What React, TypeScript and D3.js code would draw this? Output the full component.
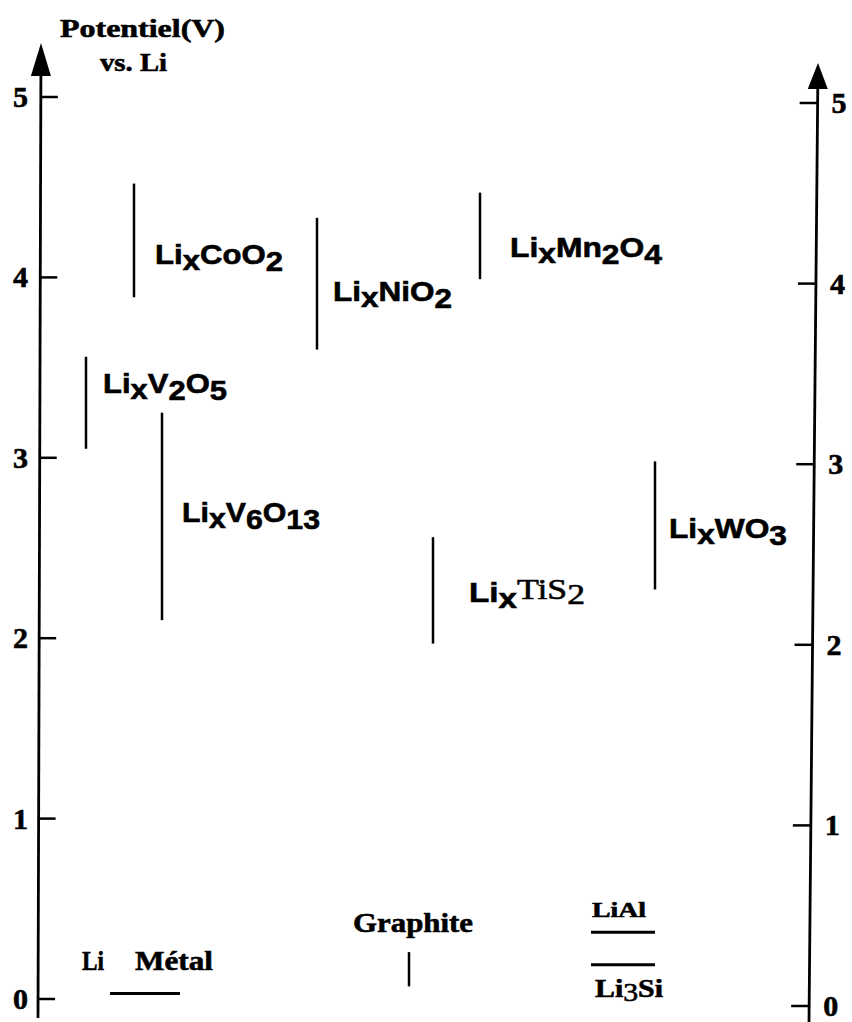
import React from "react";
import * as d3 from "d3";

const W = 852;
const H = 1022;

// Axis tick values (V vs Li)
const tickValues = [0, 1, 2, 3, 4, 5];

// Intercalation compounds: potential ranges (V vs Li)
const compounds = ["LixCoO2", "LixNiO2", "LixMn2O4", "LixV2O5", "LixV6O13", "LixTiS2", "LixWO3"];
const vMax = [4.52, 4.33, 4.47, 3.56, 3.25, 2.56, 2.98];
const vMin = [3.89, 3.6, 3.99, 3.05, 2.1, 1.97, 2.27];

// Graphite range
const graphiteRange = [0.07, 0.26];

// Alloys / lithium metal levels
const alloys = ["Li Métal", "LiAl", "Li3Si"];
const alloyV = [0.03, 0.37, 0.19];

// ---- layout ----
const SERIF = "'Liberation Serif', 'Times New Roman', serif";
const SANS = "'Liberation Sans', Arial, Helvetica, sans-serif";

const barX = [134, 317, 480, 86, 162, 433, 655];
const labelX = [155, 333, 510, 103, 182, 469, 669];
const labelBase = [264, 301, 257, 393, 522, 602, 538];
const labelW = [128, 119, 152, 124, 138, 116, 118];

type Part = { t: string; dy: number; serif?: boolean; bold?: boolean };
const labelParts: Part[][] = [
  [{ t: "Li", dy: 0 }, { t: "x", dy: 6 }, { t: "CoO", dy: 0 }, { t: "2", dy: 7 }],
  [{ t: "Li", dy: 0 }, { t: "x", dy: 6 }, { t: "NiO", dy: 0 }, { t: "2", dy: 7 }],
  [{ t: "Li", dy: 0 }, { t: "x", dy: 6 }, { t: "Mn", dy: 0 }, { t: "2", dy: 7 }, { t: "O", dy: 0 }, { t: "4", dy: 7 }],
  [{ t: "Li", dy: 0 }, { t: "x", dy: 6 }, { t: "V", dy: 0 }, { t: "2", dy: 7 }, { t: "O", dy: 0 }, { t: "5", dy: 7 }],
  [{ t: "Li", dy: 0 }, { t: "x", dy: 6 }, { t: "V", dy: 0 }, { t: "6", dy: 7 }, { t: "O", dy: 0 }, { t: "13", dy: 7 }],
  [{ t: "Li", dy: 0 }, { t: "x", dy: 6 }, { t: "TiS", dy: -3, serif: true, bold: false }, { t: "2", dy: 2, serif: true, bold: false }],
  [{ t: "Li", dy: 0 }, { t: "x", dy: 6 }, { t: "WO", dy: 0 }, { t: "3", dy: 7 }],
];

const graphiteX = 409;
const alloyX1 = [110, 591, 591];
const alloyX2 = [180, 655, 655];

const ink = { fill: "#000", stroke: "#000", strokeWidth: 0.6 };

export default function App() {
  const yL = d3.scaleLinear().domain([0, 5]).range([999, 97]);
  const yR = d3.scaleLinear().domain([0, 5]).range([1006, 103]);
  // slight tilt of the scanned axes
  const axL = d3.scaleLinear().domain([43, 1018]).range([41, 38]);
  const axR = d3.scaleLinear().domain([63, 1022]).range([818, 809]);

  return (
    <svg
      width={W}
      height={H}
      viewBox={`0 0 ${W} ${H}`}
      style={{ position: "absolute", left: 0, top: 0, background: "#fff" }}
    >
      <rect x={0} y={0} width={W} height={H} fill="#fff" />

      {/* Title */}
      <text x={60} y={37} fontFamily={SERIF} fontWeight="bold" fontSize={26} textLength={165} lengthAdjust="spacingAndGlyphs" {...ink}>
        Potentiel(V)
      </text>
      <text x={100} y={71} fontFamily={SERIF} fontWeight="bold" fontSize={26} textLength={67} lengthAdjust="spacingAndGlyphs" {...ink}>
        vs. Li
      </text>

      {/* Left axis */}
      <line x1={axL(75)} y1={75} x2={axL(1018)} y2={1018} stroke="#000" strokeWidth={2.8} />
      <polygon points={`${axL(43)},43 ${axL(75) - 10},76 ${axL(75) + 10},76`} fill="#000" />
      {tickValues.map((v) => {
        const y = yL(v);
        const x = axL(y);
        return (
          <g key={"lt" + v}>
            <line x1={x} y1={y} x2={x + 17} y2={y} stroke="#000" strokeWidth={2.5} />
            <text x={28} y={y + 10} textAnchor="end" fontFamily={SERIF} fontWeight="bold" fontSize={30} {...ink}>
              {v}
            </text>
          </g>
        );
      })}

      {/* Right axis */}
      <line x1={axR(88)} y1={88} x2={axR(1022)} y2={1022} stroke="#000" strokeWidth={2.8} />
      <polygon points={`${axR(63)},63 ${axR(88) - 10},89 ${axR(88) + 10},89`} fill="#000" />
      {tickValues.map((v) => {
        const y = yR(v);
        const x = axR(y);
        return (
          <g key={"rt" + v}>
            <line x1={x - 18} y1={y} x2={x} y2={y} stroke="#000" strokeWidth={2.5} />
            <text x={x + 14} y={y + 10} textAnchor="start" fontFamily={SERIF} fontWeight="bold" fontSize={30} {...ink}>
              {v}
            </text>
          </g>
        );
      })}

      {/* Compound ranges */}
      {compounds.map((c, i) => (
        <g key={c}>
          <line x1={barX[i]} y1={yL(vMax[i])} x2={barX[i]} y2={yL(vMin[i])} stroke="#000" strokeWidth={2.5} />
          <text
            x={labelX[i]}
            y={labelBase[i]}
            fontFamily={SANS}
            fontWeight="bold"
            fontSize={27}
            textLength={labelW[i]}
            lengthAdjust="spacingAndGlyphs"
            {...ink}
          >
            {labelParts[i].map((p, j) => {
              const prev = j === 0 ? 0 : labelParts[i][j - 1].dy;
              return (
                <tspan
                  key={j}
                  dy={p.dy - prev}
                  fontFamily={p.serif ? SERIF : SANS}
                  fontWeight={p.bold === false ? "normal" : "bold"}
                  fontSize={p.serif ? 29 : 27}
                >
                  {p.t}
                </tspan>
              );
            })}
          </text>
        </g>
      ))}

      {/* Graphite */}
      <line x1={graphiteX} y1={yL(graphiteRange[1])} x2={graphiteX} y2={yL(graphiteRange[0])} stroke="#000" strokeWidth={2.5} />
      <text x={353} y={932} fontFamily={SERIF} fontWeight="bold" fontSize={28} textLength={120} lengthAdjust="spacingAndGlyphs" {...ink}>
        Graphite
      </text>

      {/* Li metal & alloys */}
      {alloys.map((a, i) => (
        <line key={a} x1={alloyX1[i]} y1={yL(alloyV[i])} x2={alloyX2[i]} y2={yL(alloyV[i])} stroke="#000" strokeWidth={3} />
      ))}
      <text x={82} y={970} fontFamily={SERIF} fontWeight="bold" fontSize={28} textLength={22} lengthAdjust="spacingAndGlyphs" {...ink}>
        Li
      </text>
      <text x={135} y={970} fontFamily={SERIF} fontWeight="bold" fontSize={28} textLength={78} lengthAdjust="spacingAndGlyphs" {...ink}>
        Métal
      </text>
      <text x={592} y={917} fontFamily={SERIF} fontWeight="bold" fontSize={21} textLength={54} lengthAdjust="spacingAndGlyphs" {...ink}>
        LiAl
      </text>
      <text x={595} y={997} fontFamily={SERIF} fontWeight="bold" fontSize={25} textLength={68} lengthAdjust="spacingAndGlyphs" {...ink}>
        <tspan>Li</tspan>
        <tspan dy={4} fontWeight="normal">3</tspan>
        <tspan dy={-4}>Si</tspan>
      </text>
    </svg>
  );
}
